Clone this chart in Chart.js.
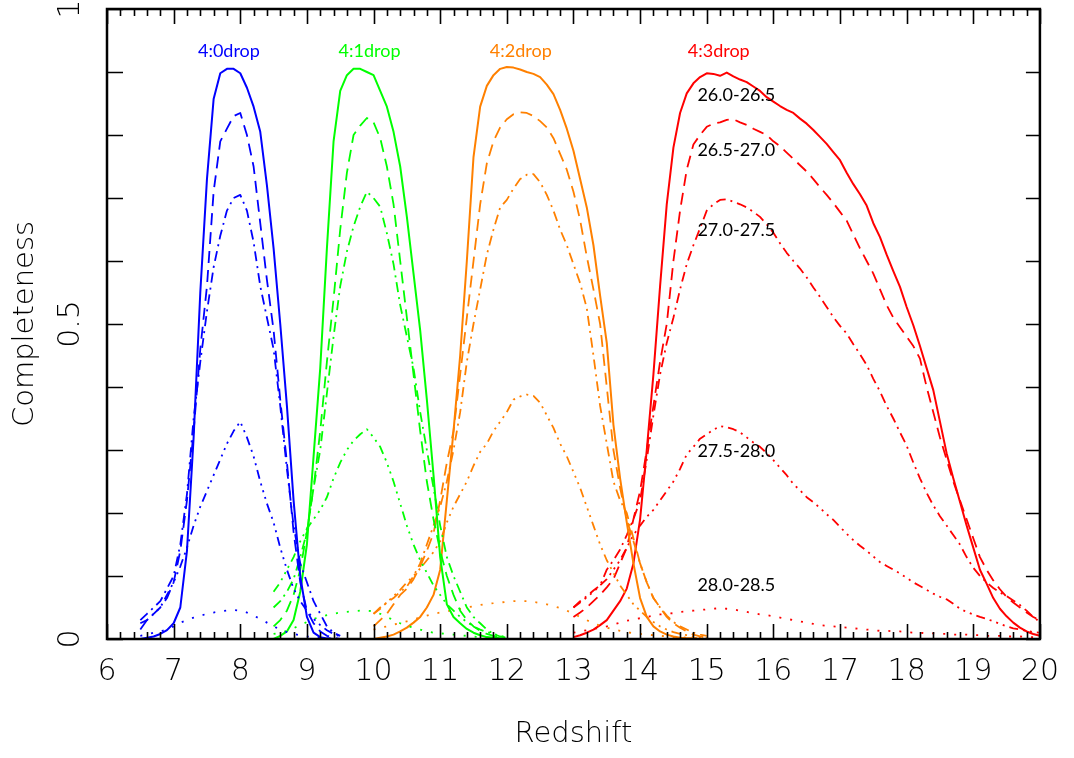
<!DOCTYPE html>
<html>
<head>
<meta charset="utf-8">
<title>Completeness vs redshift</title>
<script src="https://cdn.jsdelivr.net/npm/chart.js@4.4.1/dist/chart.umd.min.js"></script>
<style>
  html, body { margin: 0; padding: 0; background: #fff; }
  #chart { display: block; }
</style>
</head>
<body>
<canvas id="chart" width="1074" height="758"></canvas>
<script>
// magnitude bins, one line style each
const magBins = ["26.0-26.5", "26.5-27.0", "27.0-27.5", "27.5-28.0", "28.0-28.5"];
const dropNames = ["4:0drop", "4:1drop", "4:2drop", "4:3drop"];
const dropColors = ["#0000ff", "#00ff00", "#ff8000", "#ff0000"];

// redshift range covered by each dropout selection (sampled every 0.1)
const dropRanges = [[6.5, 9.5], [8.5, 12.0], [10.0, 15.0], [13.0, 20.0]];

const xTicks = [6, 7, 8, 9, 10, 11, 12, 13, 14, 15, 16, 17, 18, 19, 20];
const yTicks = [0, 0.5, 1];
const yTickLabels = ["0", "0.5", "1"];

// 4:0drop
const drop40_260 = [0, 0.002, 0.004, 0.008, 0.014,
  0.025, 0.05, 0.14, 0.32, 0.55, 0.73, 0.857, 0.898, 0.905, 0.905,
  0.898, 0.875, 0.845, 0.805, 0.72, 0.62, 0.50, 0.37, 0.22, 0.10,
  0.035, 0.01, 0.003, 0.001, 0, 0];
const drop40_265 = [0.015, 0.03, 0.04, 0.05, 0.065,
  0.09, 0.14, 0.22, 0.33, 0.46, 0.56, 0.71, 0.79, 0.81, 0.83,
  0.835, 0.80, 0.75, 0.66, 0.57, 0.49, 0.38, 0.28, 0.17, 0.09,
  0.045, 0.025, 0.012, 0.005, 0.002, 0];
const drop40_270 = [0.03, 0.04, 0.05, 0.06, 0.08,
  0.10, 0.15, 0.23, 0.35, 0.44, 0.52, 0.59, 0.64, 0.68, 0.70,
  0.705, 0.68, 0.63, 0.56, 0.51, 0.46, 0.37, 0.27, 0.18, 0.12,
  0.09, 0.06, 0.04, 0.02, 0.01, 0.005];
const drop40_275 = [0.025, 0.03, 0.04, 0.05, 0.07,
  0.09, 0.115, 0.145, 0.18, 0.21, 0.235, 0.26, 0.285, 0.31, 0.33,
  0.345, 0.32, 0.29, 0.25, 0.215, 0.185, 0.145, 0.11, 0.08, 0.06,
  0.045, 0.032, 0.022, 0.014, 0.008, 0.004];
const drop40_280 = [0.005, 0.007, 0.01, 0.012, 0.015,
  0.02, 0.026, 0.03, 0.034, 0.037, 0.04, 0.042, 0.044, 0.045, 0.046,
  0.045, 0.042, 0.037, 0.032, 0.026, 0.02, 0.015, 0.011, 0.008, 0.006,
  0.004, 0.003, 0.002, 0.001, 0.001, 0];

// 4:1drop
const drop41_260 = [0, 0.005, 0.012, 0.03, 0.075,
  0.15, 0.29, 0.43, 0.62, 0.79, 0.87, 0.895, 0.905, 0.905, 0.90,
  0.895, 0.87, 0.845, 0.805, 0.75, 0.67, 0.58, 0.49, 0.38, 0.26,
  0.13, 0.055, 0.035, 0.025, 0.016, 0.01, 0.006, 0.003, 0.002, 0.001,
  0];
const drop41_265 = [0.02, 0.03, 0.045, 0.07, 0.11,
  0.17, 0.24, 0.33, 0.44, 0.54, 0.65, 0.74, 0.80, 0.815, 0.827,
  0.82, 0.795, 0.75, 0.69, 0.60, 0.51, 0.42, 0.33, 0.25, 0.19,
  0.14, 0.10, 0.07, 0.045, 0.03, 0.02, 0.013, 0.008, 0.005, 0.002,
  0];
const drop41_270 = [0.05, 0.06, 0.075, 0.095, 0.13,
  0.17, 0.24, 0.30, 0.39, 0.48, 0.56, 0.615, 0.655, 0.686, 0.71,
  0.70, 0.686, 0.644, 0.595, 0.53, 0.48, 0.43, 0.36, 0.30, 0.24,
  0.18, 0.13, 0.10, 0.075, 0.05, 0.035, 0.025, 0.015, 0.008, 0.004,
  0.002];
const drop41_275 = [0.075, 0.09, 0.11, 0.13, 0.155,
  0.175, 0.19, 0.205, 0.225, 0.255, 0.28, 0.30, 0.315, 0.325, 0.333,
  0.32, 0.305, 0.28, 0.25, 0.215, 0.18, 0.15, 0.125, 0.105, 0.085,
  0.07, 0.055, 0.045, 0.035, 0.027, 0.02, 0.015, 0.011, 0.008, 0.005,
  0.003];
const drop41_280 = [0.008, 0.01, 0.013, 0.017, 0.022,
  0.027, 0.032, 0.035, 0.038, 0.04, 0.042, 0.043, 0.044, 0.045, 0.045,
  0.044, 0.04, 0.035, 0.03, 0.025, 0.021, 0.018, 0.015, 0.012, 0.01,
  0.009, 0.008, 0.007, 0.006, 0.005, 0.004, 0.003, 0.002, 0.002, 0.001,
  0.001];

// 4:2drop
const drop42_260 = [0, 0.002, 0.004, 0.007, 0.012, 0.018, 0.026, 0.035, 0.05, 0.07,
  0.11, 0.22, 0.33, 0.45, 0.60, 0.765, 0.845, 0.878, 0.895, 0.905,
  0.908, 0.907, 0.904, 0.90, 0.897, 0.892, 0.88, 0.865, 0.84, 0.81,
  0.775, 0.73, 0.685, 0.625, 0.545, 0.47, 0.34, 0.255, 0.185, 0.12,
  0.065, 0.035, 0.02, 0.012, 0.007, 0.004, 0.002, 0.001, 0.001, 0,
  0];
const drop42_265 = [0.02, 0.03, 0.04, 0.055, 0.07, 0.08, 0.095, 0.115, 0.14, 0.168,
  0.22, 0.28, 0.33, 0.42, 0.51, 0.60, 0.69, 0.755, 0.79, 0.812,
  0.825, 0.833, 0.836, 0.835, 0.83, 0.822, 0.812, 0.795, 0.77, 0.745,
  0.71, 0.665, 0.607, 0.555, 0.50, 0.40, 0.30, 0.24, 0.19, 0.155,
  0.12, 0.09, 0.065, 0.05, 0.035, 0.025, 0.018, 0.012, 0.007, 0.004,
  0.002];
const drop42_270 = [0.04, 0.05, 0.058, 0.065, 0.075, 0.083, 0.10, 0.12, 0.15, 0.18,
  0.21, 0.25, 0.30, 0.36, 0.44, 0.50, 0.555, 0.61, 0.65, 0.685,
  0.697, 0.715, 0.73, 0.737, 0.738, 0.725, 0.705, 0.68, 0.65, 0.625,
  0.595, 0.565, 0.525, 0.45, 0.37, 0.31, 0.25, 0.22, 0.20, 0.16,
  0.12, 0.09, 0.065, 0.05, 0.037, 0.027, 0.02, 0.015, 0.01, 0.007,
  0.005];
const drop42_275 = [0.04, 0.048, 0.058, 0.068, 0.078, 0.09, 0.10, 0.112, 0.125, 0.138,
  0.155, 0.185, 0.21, 0.23, 0.25, 0.275, 0.297, 0.31, 0.33, 0.345,
  0.36, 0.38, 0.385, 0.388, 0.386, 0.375, 0.355, 0.335, 0.31, 0.29,
  0.265, 0.24, 0.21, 0.18, 0.15, 0.125, 0.105, 0.085, 0.07, 0.055,
  0.045, 0.035, 0.027, 0.02, 0.015, 0.011, 0.008, 0.006, 0.004, 0.003,
  0.002];
const drop42_280 = [0.015, 0.018, 0.02, 0.023, 0.025, 0.028, 0.031, 0.034, 0.037, 0.04,
  0.042, 0.044, 0.046, 0.048, 0.05, 0.052, 0.054, 0.056, 0.057, 0.058,
  0.059, 0.06, 0.06, 0.06, 0.059, 0.057, 0.055, 0.052, 0.049, 0.045,
  0.04, 0.035, 0.03, 0.025, 0.021, 0.018, 0.015, 0.013, 0.011, 0.009,
  0.008, 0.007, 0.006, 0.005, 0.004, 0.003, 0.003, 0.002, 0.002, 0.001,
  0.001];

// 4:3drop
const drop43_260 = [0.003, 0.006, 0.01, 0.015, 0.022, 0.03, 0.045, 0.06, 0.08, 0.12,
  0.19, 0.30, 0.42, 0.56, 0.69, 0.78, 0.835, 0.866, 0.882, 0.892,
  0.898, 0.897, 0.894, 0.899, 0.893, 0.888, 0.884, 0.877, 0.87, 0.86,
  0.853, 0.846, 0.84, 0.835, 0.826, 0.818, 0.808, 0.797, 0.786, 0.773,
  0.76, 0.74, 0.722, 0.706, 0.688, 0.66, 0.638, 0.61, 0.584, 0.559,
  0.527, 0.498, 0.465, 0.43, 0.395, 0.345, 0.295, 0.255, 0.218, 0.18,
  0.145, 0.11, 0.088, 0.065, 0.048, 0.036, 0.026, 0.018, 0.012, 0.008,
  0.005];
const drop43_265 = [0.035, 0.042, 0.05, 0.06, 0.07, 0.082, 0.095, 0.12, 0.145, 0.19,
  0.235, 0.30, 0.37, 0.44, 0.50, 0.60, 0.68, 0.745, 0.785, 0.80,
  0.813, 0.818, 0.82, 0.824, 0.825, 0.82, 0.816, 0.81, 0.805, 0.80,
  0.79, 0.782, 0.772, 0.762, 0.752, 0.742, 0.73, 0.717, 0.705, 0.692,
  0.678, 0.664, 0.642, 0.62, 0.60, 0.58, 0.555, 0.53, 0.51, 0.495,
  0.48, 0.465, 0.445, 0.40, 0.36, 0.32, 0.285, 0.25, 0.22, 0.19,
  0.16, 0.13, 0.11, 0.093, 0.079, 0.067, 0.058, 0.05, 0.042, 0.035,
  0.03];
const drop43_270 = [0.05, 0.06, 0.068, 0.077, 0.085, 0.11, 0.125, 0.142, 0.165, 0.19,
  0.22, 0.285, 0.355, 0.42, 0.47, 0.51, 0.555, 0.595, 0.625, 0.652,
  0.68, 0.69, 0.697, 0.698, 0.694, 0.69, 0.685, 0.678, 0.67, 0.658,
  0.645, 0.628, 0.613, 0.60, 0.588, 0.574, 0.558, 0.543, 0.527, 0.511,
  0.497, 0.485, 0.468, 0.452, 0.435, 0.413, 0.393, 0.37, 0.35, 0.328,
  0.307, 0.28, 0.255, 0.232, 0.212, 0.195, 0.18, 0.165, 0.15, 0.13,
  0.113, 0.10, 0.09, 0.081, 0.074, 0.068, 0.061, 0.054, 0.045, 0.035,
  0.027];
const drop43_275 = [0.05, 0.058, 0.066, 0.075, 0.085, 0.095, 0.11, 0.125, 0.145, 0.165,
  0.18, 0.194, 0.205, 0.22, 0.235, 0.25, 0.27, 0.293, 0.305, 0.318,
  0.325, 0.332, 0.338, 0.336, 0.333, 0.328, 0.32, 0.312, 0.305, 0.295,
  0.284, 0.272, 0.26, 0.246, 0.236, 0.225, 0.217, 0.208, 0.198, 0.189,
  0.178, 0.167, 0.157, 0.148, 0.14, 0.131, 0.122, 0.116, 0.11, 0.104,
  0.097, 0.09, 0.084, 0.078, 0.072, 0.067, 0.063, 0.056, 0.048, 0.043,
  0.039, 0.035, 0.032, 0.028, 0.024, 0.02, 0.017, 0.015, 0.013, 0.011,
  0.01];
const drop43_280 = [0.01, 0.012, 0.014, 0.016, 0.018, 0.02, 0.023, 0.026, 0.029, 0.031,
  0.033, 0.035, 0.037, 0.039, 0.04, 0.041, 0.043, 0.044, 0.045, 0.046,
  0.047, 0.048, 0.049, 0.048, 0.047, 0.045, 0.043, 0.041, 0.039, 0.038,
  0.036, 0.034, 0.032, 0.03, 0.028, 0.026, 0.024, 0.022, 0.021, 0.02,
  0.019, 0.018, 0.017, 0.016, 0.015, 0.014, 0.013, 0.013, 0.012, 0.012,
  0.011, 0.01, 0.01, 0.009, 0.009, 0.008, 0.008, 0.007, 0.007, 0.007,
  0.006, 0.006, 0.005, 0.005, 0.005, 0.004, 0.004, 0.004, 0.003, 0.003,
  0.003];

const dropSeries = [
  [drop40_260, drop40_265, drop40_270, drop40_275, drop40_280],
  [drop41_260, drop41_265, drop41_270, drop41_275, drop41_280],
  [drop42_260, drop42_265, drop42_270, drop42_275, drop42_280],
  [drop43_260, drop43_265, drop43_270, drop43_275, drop43_280],
];

// solid, dashed, dash-dot, dash-dot-dot-dot, dotted
const binDashes = [[], [12, 7], [10, 5, 2, 5], [9, 5, 2, 5, 2, 5, 2, 5], [2, 9]];

const redshiftGrid = (from, to) => {
  const zs = [];
  for (let i = Math.round(from * 10); i <= Math.round(to * 10); i++) zs.push(i / 10);
  return zs;
};

const datasets = [];
dropSeries.forEach((bins, d) => {
  const zs = redshiftGrid(dropRanges[d][0], dropRanges[d][1]);
  bins.forEach((values, b) => {
    datasets.push({
      label: dropNames[d] + " " + magBins[b],
      data: values.map((c, i) => ({ x: zs[i], y: c })),
      borderColor: dropColors[d],
      borderWidth: b === 0 ? 2 : 1.8,
      borderDash: binDashes[b],
      borderCapStyle: "butt",
      borderJoinStyle: "round",
      pointRadius: 0,
      tension: 0,
      fill: false,
    });
  });
});

const axisFont = "'DejaVu Sans'";
const noteFont = "Lato, 'Open Sans', sans-serif";

// box, inward ticks, rotated y labels and the text notes
const framePlugin = {
  id: "frame",
  afterDatasetsDraw(chart) {
    const { ctx, chartArea: a, scales: { x, y } } = chart;
    ctx.save();
    ctx.strokeStyle = "#000";
    ctx.lineCap = "butt";

    ctx.lineWidth = 1.6;
    ctx.beginPath();
    for (let i = 0; i <= 70; i++) {
      const px = Math.round(x.getPixelForValue(6 + i * 0.2)) + 0.5;
      const len = i % 5 === 0 ? 15 : 7;
      ctx.moveTo(px, a.bottom);
      ctx.lineTo(px, a.bottom - len);
      ctx.moveTo(px, a.top);
      ctx.lineTo(px, a.top + len);
    }
    for (let i = 0; i <= 10; i++) {
      const py = Math.round(y.getPixelForValue(i / 10)) + 0.5;
      ctx.moveTo(a.left, py);
      ctx.lineTo(a.left + 16, py);
      ctx.moveTo(a.right, py);
      ctx.lineTo(a.right - 14, py);
    }
    ctx.stroke();

    ctx.lineWidth = 2.5;
    ctx.strokeRect(a.left, a.top, a.right - a.left, a.bottom - a.top);

    ctx.fillStyle = "#000";
    ctx.font = "200 30px " + axisFont;
    ctx.textAlign = "center";
    ctx.textBaseline = "middle";
    yTicks.forEach((v, i) => {
      ctx.save();
      ctx.translate(71, y.getPixelForValue(v));
      ctx.rotate(-Math.PI / 2);
      ctx.fillText(yTickLabels[i], 0, 0);
      ctx.restore();
    });

    ctx.font = "18px " + noteFont;
    ctx.textBaseline = "alphabetic";
    const nameZ = [7.83, 9.94, 12.21, 15.18];
    dropNames.forEach((name, d) => {
      ctx.fillStyle = dropColors[d];
      ctx.fillText(name, x.getPixelForValue(nameZ[d]), y.getPixelForValue(0.924));
    });

    ctx.fillStyle = "#000";
    ctx.textAlign = "left";
    const binC = [0.854, 0.767, 0.64, 0.289, 0.076];
    magBins.forEach((bin, b) => {
      ctx.fillText(bin, x.getPixelForValue(14.86), y.getPixelForValue(binC[b]));
    });
    ctx.restore();
  },
};

const ctx = document.getElementById("chart").getContext("2d");
new Chart(ctx, {
  type: "line",
  data: { datasets },
  plugins: [framePlugin],
  options: {
    responsive: false,
    animation: false,
    devicePixelRatio: 1,
    layout: { padding: { top: 9, right: 25, bottom: 0, left: 0 } },
    plugins: { legend: { display: false }, tooltip: { enabled: false } },
    scales: {
      x: {
        type: "linear",
        min: 6,
        max: 20,
        afterBuildTicks: (scale) => {
          scale.ticks = xTicks.map((v) => ({ value: v }));
        },
        afterFit: (scale) => {
          scale.height = 119;
        },
        grid: { display: false, drawTicks: false },
        border: { display: false },
        ticks: {
          autoSkip: false,
          maxRotation: 0,
          padding: 15,
          color: "#000",
          font: { family: axisFont, size: 30, weight: 200 },
        },
        title: {
          display: true,
          text: "Redshift",
          color: "#000",
          padding: { top: 0, bottom: 6 },
          font: { family: axisFont, size: 29, weight: 200 },
        },
      },
      y: {
        type: "linear",
        min: 0,
        max: 1,
        afterFit: (scale) => {
          scale.width = 107;
        },
        grid: { display: false, drawTicks: false },
        border: { display: false },
        ticks: { display: false },
        title: {
          display: true,
          text: "Completeness",
          color: "#000",
          padding: { top: 8, bottom: 0 },
          font: { family: axisFont, size: 29, weight: 200 },
        },
      },
    },
  },
});
</script>
</body>
</html>
